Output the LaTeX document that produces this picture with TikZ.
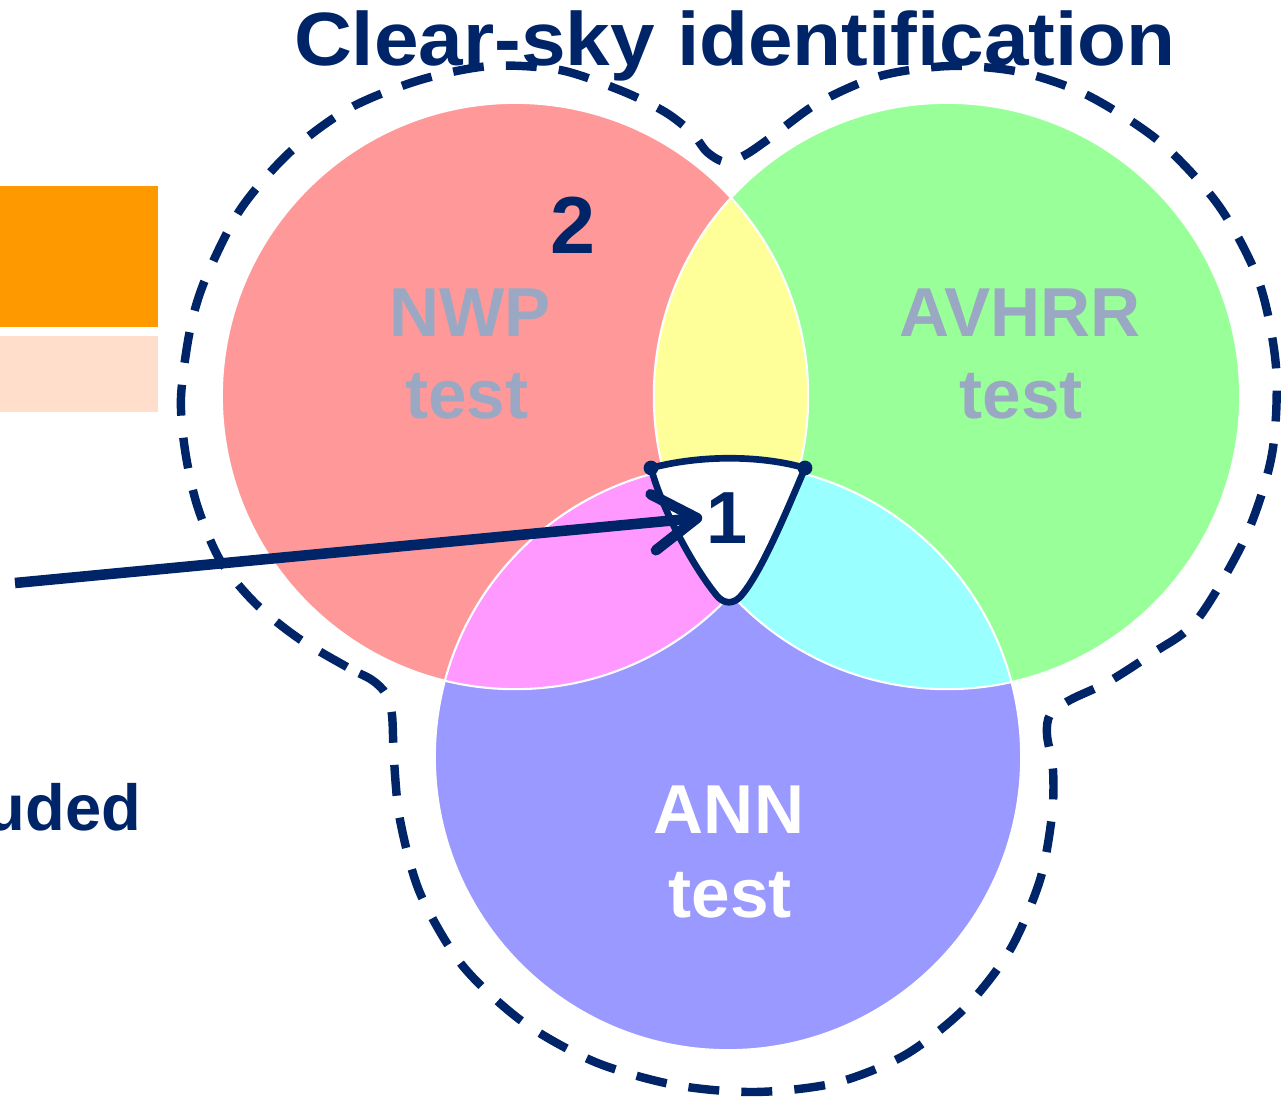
\documentclass[tikz,border=0pt]{standalone}
\usepackage{fontspec}
\setmainfont{Liberation Sans}
\usetikzlibrary{arrows.meta}
\definecolor{navy}{RGB}{0,36,104}
\definecolor{nwpred}{RGB}{255,153,153}
\definecolor{avhrrgreen}{RGB}{153,255,153}
\definecolor{annblue}{RGB}{153,153,255}
\definecolor{lensyellow}{RGB}{255,255,153}
\definecolor{lensmagenta}{RGB}{255,153,255}
\definecolor{lenscyan}{RGB}{153,255,255}
\definecolor{keyorange}{RGB}{255,153,0}
\definecolor{keypeach}{RGB}{255,222,204}
\definecolor{labelgrey}{RGB}{154,168,196}
\tikzset{%
  lobe/.style={draw=white, line width=0.6pt},% thin white edge of a test circle
  testlabel/.style={anchor=base, inner sep=0pt, font=\fontsize{19.7}{23}\selectfont\bfseries},
  skyline/.style={navy, line width=2.4pt, dash pattern=on 8.8pt off 6.3pt},% clear-sky outline
  corner/.style={draw=navy, fill=white, line width=1.9pt, line join=round},
  pointer/.style={navy, line width=3pt, -{Straight Barb[length=12.5pt,width=16pt,round]}}
}
\newcommand*{\vennrad}{2.93cm}
\begin{document}
\begin{tikzpicture}[x=0.01cm, y=-0.01cm]
\useasboundingbox (0,0) rectangle (1282,1097);

% legend boxes, cut at the left edge
\fill[keyorange] (0,186) rectangle (158,327);
\fill[keypeach] (0,336) rectangle (158,412);

\coordinate (nwpc) at (515,396);
\coordinate (avhrrc) at (947,396);
\coordinate (annc) at (728,757);

\fill[nwpred] (nwpc) circle[radius=\vennrad];
\fill[avhrrgreen] (avhrrc) circle[radius=\vennrad];
\fill[annblue] (annc) circle[radius=\vennrad];
\begin{scope}
  \clip (nwpc) circle[radius=\vennrad];
  \fill[lensyellow] (avhrrc) circle[radius=\vennrad];
  \fill[lensmagenta] (annc) circle[radius=\vennrad];
\end{scope}
\begin{scope}
  \clip (avhrrc) circle[radius=\vennrad];
  \fill[lenscyan] (annc) circle[radius=\vennrad];
  \clip (nwpc) circle[radius=\vennrad];
  \fill[white] (annc) circle[radius=\vennrad];
\end{scope}
\draw[lobe] (nwpc) circle[radius=\vennrad];
\draw[lobe] (avhrrc) circle[radius=\vennrad];
\draw[lobe] (annc) circle[radius=\vennrad];

\draw[skyline] plot[smooth cycle, tension=0.5] coordinates {
  (372,680) (347,667) (298,638) (255,603) (220,560) (197,505) (185,450)
  (181,397) (190,330) (205,280) (240,210) (290,152) (350,108) (420,80)
  (490,66) (560,70) (622,91) (665,112) (692,133) (707,152) (725,162)
  (745,155) (770,138) (818,103) (880,76) (950,66) (1020,72) (1087,95)
  (1160,142) (1219,206) (1259,282) (1276,367) (1272,454) (1246,536)
  (1197,620) (1153,653) (1108,682) (1070,700) (1050,715) (1047,735)
  (1053,770) (1052,815) (1040,880) (1010,950) (965,1008) (905,1055)
  (835,1083) (755,1092) (675,1085) (595,1062) (523,1022) (462,965)
  (420,893) (400,820) (394,760) (392,715) (386,694)};

\node[anchor=base, inner sep=0pt, text=navy, xscale=1.06,
  font=\fontsize{21.5}{25}\selectfont\bfseries] (title) at (735,66) {Clear-sky identification};

\node[testlabel, text=labelgrey] (nwp) at (470,336) {NWP};
\node[testlabel, text=labelgrey] (nwptest) at (467,418) {test};
\node[testlabel, text=labelgrey] (avhrr) at (1020,336) {AVHRR};
\node[testlabel, text=labelgrey] (avhrrtest) at (1021,418) {test};
\node[testlabel, text=white] (ann) at (729,833) {ANN};
\node[testlabel, text=white] (anntest) at (730,917) {test};

\node[anchor=base, inner sep=0pt, text=navy, font=\fontsize{23}{27}\selectfont\bfseries] (two) at (573,253) {2};

% region where all three tests agree
\coordinate (d1) at (651,468);
\coordinate (d2) at (805,468);
\draw[corner] (d1) .. controls (700,455) and (760,455) .. (d2)
  .. controls (785,515) and (760,575) .. (740,597)
  .. controls (733,604) and (725,604) .. (718,597)
  .. controls (695,570) and (662,510) .. (d1) -- cycle;
\fill[navy] (d1) circle[radius=2.1pt];
\fill[navy] (d2) circle[radius=2.1pt];
\node[anchor=base, inner sep=1pt, text=navy, font=\fontsize{21}{25}\selectfont\bfseries] (one) at (727,543) {1};

\node[anchor=base east, inner sep=0pt, text=navy, font=\fontsize{18.5}{22}\selectfont\bfseries] (excl) at (142,830) {uded};

\coordinate (src) at (15,583);
\draw[pointer] (src) -- (one.west);

\end{tikzpicture}
\end{document}
